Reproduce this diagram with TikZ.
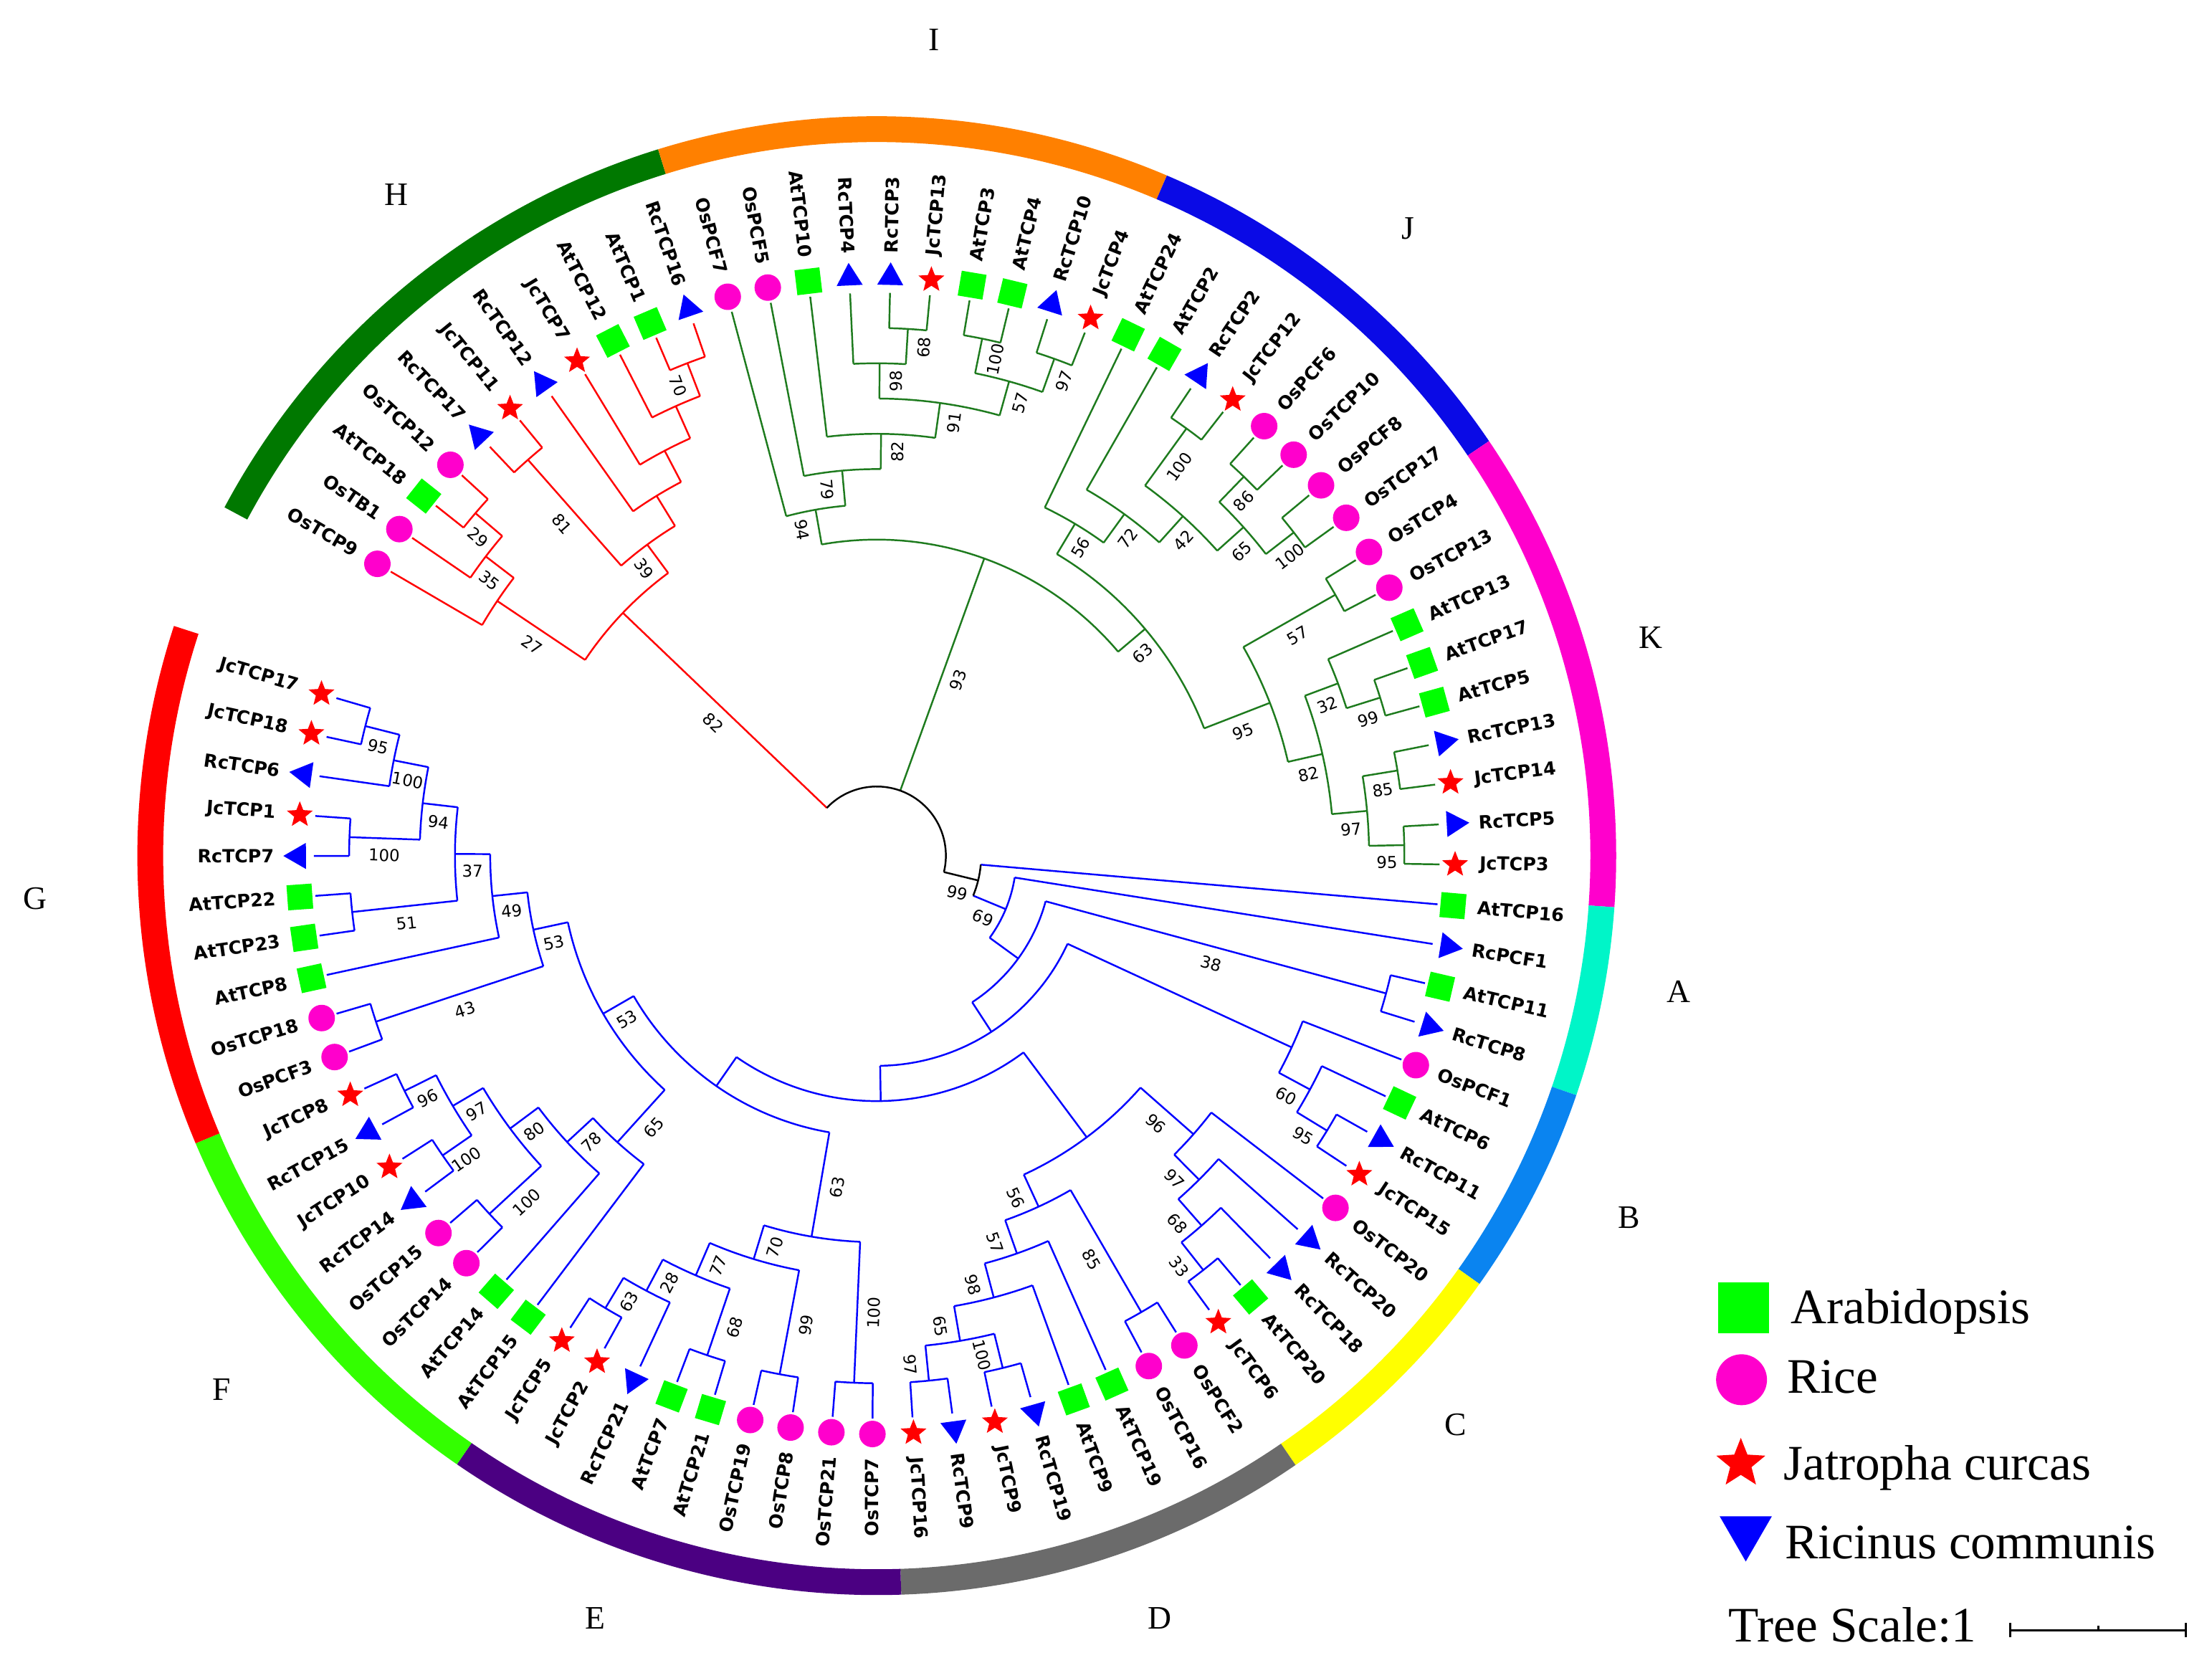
\documentclass[tikz,border=0pt]{standalone}
\usepackage{fontspec}
\setmainfont{Liberation Serif}
\newfontfamily\tipfont{DejaVu Sans}
\usetikzlibrary{shapes.geometric}

\definecolor{treered}{HTML}{FF0000}
\definecolor{treegreen}{HTML}{1E7B1E}
\definecolor{treeblue}{HTML}{0000FF}
\definecolor{arabgreen}{HTML}{00FF00}
\definecolor{ricepink}{HTML}{FF00CC}
\definecolor{jatred}{HTML}{FF0000}
\definecolor{ricblue}{HTML}{0000FF}
\definecolor{ringH}{HTML}{007800}
\definecolor{ringI}{HTML}{FF8000}
\definecolor{ringJ}{HTML}{0A0AE6}
\definecolor{ringK}{HTML}{FF00CC}
\definecolor{ringA}{HTML}{00F5C8}
\definecolor{ringB}{HTML}{0A84F0}
\definecolor{ringC}{HTML}{FFFF00}
\definecolor{ringD}{HTML}{6B6B6B}
\definecolor{ringE}{HTML}{4B0082}
\definecolor{ringF}{HTML}{33FF00}
\definecolor{ringG}{HTML}{FF0000}

\newcommand\brcol{treered}

% leaf: name, position in the circle, species
\newcommand\leaf[3]{%
	\pgfmathsetmacro\lang{149.7-4.07*#2}%
	\expandafter\xdef\csname ang@#1\endcsname{\lang}%
	\expandafter\xdef\csname rad@#1\endcsname{399}%
	\expandafter\xdef\csname col@#1\endcsname{\brcol}%
	\expandafter\gdef\csname bs@#1\endcsname{}%
	\coordinate (x-#1) at (\lang:399);
	\node[#3mark=\lang] (m-#1) at (\lang:410) {};
	\pgfmathsetmacro\lcos{cos(\lang)}%
	\ifdim\lcos pt<0pt
		\pgfmathsetmacro\lrot{\lang+180}%
		\node[tip, rotate=\lrot, anchor=east] (#1) at (\lang:427) {#1};
	\else
		\node[tip, rotate=\lang, anchor=west] (#1) at (\lang:427) {#1};
	\fi
}

% stem from the parent arc out to a child, with its bootstrap value
\newcommand\stem[2]{%
	\edef\sang{\csname ang@#1\endcsname}%
	\edef\srad{\csname rad@#1\endcsname}%
	\edef\prad{\csname rad@#2\endcsname}%
	\edef\scol{\csname col@#1\endcsname}%
	\edef\sval{\csname bs@#1\endcsname}%
	\coordinate (b-#1) at (\sang:\prad);
	\draw[branch, color=\scol] (b-#1) -- (x-#1);
	\ifx\sval\empty\else
		\pgfmathsetmacro\bmid{(\srad+\prad)/2}%
		\pgfmathsetmacro\scos{cos(\sang)}%
		\ifdim\scos pt<0pt
			\pgfmathsetmacro\boff{\sang+90}%
			\pgfmathsetmacro\brot{\sang+180}%
		\else
			\pgfmathsetmacro\boff{\sang-90}%
			\pgfmathsetmacro\brot{\sang}%
		\fi
		\path (\sang:\bmid) ++(\boff:12) node[boot, rotate=\brot] (bs-#1) {\sval};
	\fi
}

% clade: name, first child, second child, height, bootstrap
\newcommand\clade[5]{%
	\edef\aone{\csname ang@#2\endcsname}%
	\edef\atwo{\csname ang@#3\endcsname}%
	\pgfmathsetmacro\cang{(\aone+\atwo)/2}%
	\pgfmathsetmacro\crad{399-25*#4}%
	\expandafter\xdef\csname ang@#1\endcsname{\cang}%
	\expandafter\xdef\csname rad@#1\endcsname{\crad}%
	\expandafter\xdef\csname col@#1\endcsname{\brcol}%
	\expandafter\gdef\csname bs@#1\endcsname{#5}%
	\coordinate (x-#1) at (\cang:\crad);
	\stem{#2}{#1}\stem{#3}{#1}%
	\draw[branch, color=\brcol] (b-#2) arc[start angle=\aone, end angle=\atwo, radius=\crad];
}

\begin{document}
\begin{tikzpicture}[x=0.01968cm, y=0.01968cm,
		tip/.style={font=\tipfont\bfseries\fontsize{7.2}{8}\selectfont, inner sep=0pt},
		boot/.style={font=\tipfont\fontsize{6.5}{7}\selectfont, inner sep=0pt},
		branch/.style={line width=0.7pt},
		ring/.style={line width=0.36cm},
		cladename/.style={font=\fontsize{13}{15}\selectfont, inner sep=0pt},
		keytext/.style={font=\fontsize{19.7}{22}\selectfont, inner sep=0pt},
		atmark/.style={rectangle, fill=arabgreen, minimum size=0.35cm, inner sep=0pt, rotate=#1},
		osmark/.style={circle, fill=ricepink, minimum size=0.37cm, inner sep=0pt},
		jcmark/.style={star, star points=5, star point ratio=2.3, fill=jatred, minimum size=0.38cm, inner sep=0pt},
		rcmark/.style={regular polygon, regular polygon sides=3, fill=ricblue, minimum size=0.42cm, inner sep=0pt, rotate=#1-90}]
	\useasboundingbox (-621.5,-575.5) rectangle (946.5,606.5);

	\foreach \a/\b/\c in {107.2/151.9/ringH, 66.9/107.2/ringI, 34.1/66.9/ringJ, -4.0/34.1/ringK,
			-18.9/-4.0/ringA, -35.4/-18.9/ringB, -55.5/-35.4/ringC, -88.1/-55.5/ringD,
			-124.6/-88.1/ringE, -157.1/-124.6/ringF, -198.1/-157.1/ringG}
		\draw[ring, color=\c] (\a:515) arc[start angle=\a, end angle=\b, radius=515];

	\foreach \t/\x/\y in {I/40.5/578.5, H/-340.5/468.5, J/376.5/444.5, K/548.5/154.5,
			A/568.5/-96.5, B/533.5/-256.5, C/410.5/-403.5, D/200.5/-540.5,
			E/-199.5/-540.5, F/-464.5/-378.5, G/-596.5/-30.5}
		\node[cladename] (cl-\t) at (\x,\y) {\t};

	\renewcommand\brcol{treered}
	\leaf{OsTCP9}{0}{os}
	\leaf{OsTB1}{1}{os}
	\leaf{AtTCP18}{2}{at}
	\leaf{OsTCP12}{3}{os}
	\leaf{RcTCP17}{4}{rc}
	\leaf{JcTCP11}{5}{jc}
	\leaf{RcTCP12}{6}{rc}
	\leaf{JcTCP7}{7}{jc}
	\leaf{AtTCP12}{8}{at}
	\leaf{AtTCP1}{9}{at}
	\leaf{RcTCP16}{10}{rc}

	\renewcommand\brcol{treegreen}
	\leaf{OsPCF7}{11}{os}
	\leaf{OsPCF5}{12}{os}
	\leaf{AtTCP10}{13}{at}
	\leaf{RcTCP4}{14}{rc}
	\leaf{RcTCP3}{15}{rc}
	\leaf{JcTCP13}{16}{jc}
	\leaf{AtTCP3}{17}{at}
	\leaf{AtTCP4}{18}{at}
	\leaf{RcTCP10}{19}{rc}
	\leaf{JcTCP4}{20}{jc}
	\leaf{AtTCP24}{21}{at}
	\leaf{AtTCP2}{22}{at}
	\leaf{RcTCP2}{23}{rc}
	\leaf{JcTCP12}{24}{jc}
	\leaf{OsPCF6}{25}{os}
	\leaf{OsTCP10}{26}{os}
	\leaf{OsPCF8}{27}{os}
	\leaf{OsTCP17}{28}{os}
	\leaf{OsTCP4}{29}{os}
	\leaf{OsTCP13}{30}{os}
	\leaf{AtTCP13}{31}{at}
	\leaf{AtTCP17}{32}{at}
	\leaf{AtTCP5}{33}{at}
	\leaf{RcTCP13}{34}{rc}
	\leaf{JcTCP14}{35}{jc}
	\leaf{RcTCP5}{36}{rc}
	\leaf{JcTCP3}{37}{jc}

	\renewcommand\brcol{treeblue}
	\leaf{AtTCP16}{38}{at}
	\leaf{RcPCF1}{39}{rc}
	\leaf{AtTCP11}{40}{at}
	\leaf{RcTCP8}{41}{rc}
	\leaf{OsPCF1}{42}{os}
	\leaf{AtTCP6}{43}{at}
	\leaf{RcTCP11}{44}{rc}
	\leaf{JcTCP15}{45}{jc}
	\leaf{OsTCP20}{46}{os}
	\leaf{RcTCP20}{47}{rc}
	\leaf{RcTCP18}{48}{rc}
	\leaf{AtTCP20}{49}{at}
	\leaf{JcTCP6}{50}{jc}
	\leaf{OsPCF2}{51}{os}
	\leaf{OsTCP16}{52}{os}
	\leaf{AtTCP19}{53}{at}
	\leaf{AtTCP9}{54}{at}
	\leaf{RcTCP19}{55}{rc}
	\leaf{JcTCP9}{56}{jc}
	\leaf{RcTCP9}{57}{rc}
	\leaf{JcTCP16}{58}{jc}
	\leaf{OsTCP7}{59}{os}
	\leaf{OsTCP21}{60}{os}
	\leaf{OsTCP8}{61}{os}
	\leaf{OsTCP19}{62}{os}
	\leaf{AtTCP21}{63}{at}
	\leaf{AtTCP7}{64}{at}
	\leaf{RcTCP21}{65}{rc}
	\leaf{JcTCP2}{66}{jc}
	\leaf{JcTCP5}{67}{jc}
	\leaf{AtTCP15}{68}{at}
	\leaf{AtTCP14}{69}{at}
	\leaf{OsTCP14}{70}{os}
	\leaf{OsTCP15}{71}{os}
	\leaf{RcTCP14}{72}{rc}
	\leaf{JcTCP10}{73}{jc}
	\leaf{RcTCP15}{74}{rc}
	\leaf{JcTCP8}{75}{jc}
	\leaf{OsPCF3}{76}{os}
	\leaf{OsTCP18}{77}{os}
	\leaf{AtTCP8}{78}{at}
	\leaf{AtTCP23}{79}{at}
	\leaf{AtTCP22}{80}{at}
	\leaf{RcTCP7}{81}{rc}
	\leaf{JcTCP1}{82}{jc}
	\leaf{RcTCP6}{83}{rc}
	\leaf{JcTCP18}{84}{jc}
	\leaf{JcTCP17}{85}{jc}

	\renewcommand\brcol{treered}
	\clade{n1}{AtTCP18}{OsTCP12}{1}{29}
	\clade{n2}{OsTB1}{n1}{2}{35}
	\clade{n3}{OsTCP9}{n2}{3}{27}
	\clade{n4}{RcTCP17}{JcTCP11}{1}{81}
	\clade{n5}{AtTCP1}{RcTCP16}{1}{70}
	\clade{n6}{AtTCP12}{n5}{2}{}
	\clade{n7}{JcTCP7}{n6}{3}{}
	\clade{n9}{RcTCP12}{n7}{4}{}
	\clade{n8}{n4}{n9}{5}{39}
	\clade{H}{n3}{n8}{6}{82}

	\renewcommand\brcol{treegreen}
	\clade{g1}{RcTCP3}{JcTCP13}{1}{68}
	\clade{g2}{RcTCP4}{g1}{2}{98}
	\clade{g3}{AtTCP3}{AtTCP4}{1}{100}
	\clade{g4}{RcTCP10}{JcTCP4}{1}{97}
	\clade{g5}{g3}{g4}{2}{57}
	\clade{g6}{g2}{g5}{3}{91}
	\clade{g7}{AtTCP10}{g6}{4}{82}
	\clade{g8}{OsPCF5}{g7}{5}{79}
	\clade{g9}{OsPCF7}{g8}{6}{94}
	\clade{j1}{RcTCP2}{JcTCP12}{1}{100}
	\clade{k1}{OsPCF6}{OsTCP10}{1}{86}
	\clade{k2}{OsPCF8}{OsTCP17}{1}{100}
	\clade{k3}{k1}{k2}{2}{65}
	\clade{j2}{j1}{k3}{3}{42}
	\clade{j3}{AtTCP2}{j2}{4}{72}
	\clade{j4}{AtTCP24}{j3}{5}{56}
	\clade{k4}{OsTCP4}{OsTCP13}{1}{57}
	\clade{k5}{AtTCP17}{AtTCP5}{1}{99}
	\clade{k6}{AtTCP13}{k5}{2}{32}
	\clade{k7}{RcTCP13}{JcTCP14}{1}{85}
	\clade{k8}{RcTCP5}{JcTCP3}{1}{95}
	\clade{k9}{k7}{k8}{2}{97}
	\clade{k10}{k6}{k9}{3}{82}
	\clade{k11}{k4}{k10}{4}{95}
	\clade{jk}{j4}{k11}{6}{63}
	\clade{GR}{g9}{jk}{7}{93}

	\renewcommand\brcol{treeblue}
	\clade{b1}{RcTCP11}{JcTCP15}{1}{95}
	\clade{b2}{AtTCP6}{b1}{2}{60}
	\clade{b3}{OsPCF1}{b2}{3}{}
	\clade{a1}{AtTCP11}{RcTCP8}{1}{38}
	\clade{c1}{AtTCP20}{JcTCP6}{1}{33}
	\clade{c2}{RcTCP18}{c1}{2}{68}
	\clade{c3}{RcTCP20}{c2}{3}{97}
	\clade{c4}{OsTCP20}{c3}{4}{96}
	\clade{d1}{OsPCF2}{OsTCP16}{1}{85}
	\clade{d2}{RcTCP19}{JcTCP9}{1}{100}
	\clade{d3}{RcTCP9}{JcTCP16}{1}{97}
	\clade{d4}{d2}{d3}{2}{65}
	\clade{d5}{AtTCP9}{d4}{3}{98}
	\clade{d6}{AtTCP19}{d5}{4}{57}
	\clade{d7}{d1}{d6}{5}{56}
	\clade{cd}{c4}{d7}{6}{}
	\clade{e1}{OsTCP7}{OsTCP21}{1}{100}
	\clade{e2}{OsTCP8}{OsTCP19}{1}{99}
	\clade{e3}{AtTCP21}{AtTCP7}{1}{68}
	\clade{e4}{JcTCP2}{JcTCP5}{1}{63}
	\clade{e5}{RcTCP21}{e4}{2}{28}
	\clade{e6}{e3}{e5}{3}{77}
	\clade{e7}{e2}{e6}{4}{70}
	\clade{e8}{e1}{e7}{5}{63}
	\clade{f1}{RcTCP15}{JcTCP8}{1}{96}
	\clade{f2}{RcTCP14}{JcTCP10}{1}{100}
	\clade{f3}{f2}{f1}{2}{97}
	\clade{f4}{OsTCP14}{OsTCP15}{1}{100}
	\clade{f5}{f4}{f3}{3}{80}
	\clade{f6}{AtTCP14}{f5}{4}{78}
	\clade{f7}{AtTCP15}{f6}{5}{65}
	\clade{ga}{JcTCP18}{JcTCP17}{1}{95}
	\clade{gb}{RcTCP6}{ga}{2}{100}
	\clade{gc}{RcTCP7}{JcTCP1}{1}{100}
	\clade{gd}{gc}{gb}{3}{94}
	\clade{ge}{AtTCP23}{AtTCP22}{1}{51}
	\clade{gf}{ge}{gd}{4}{37}
	\clade{gg}{AtTCP8}{gf}{5}{49}
	\clade{gh}{OsPCF3}{OsTCP18}{1}{43}
	\clade{gi}{gh}{gg}{6}{53}
	\clade{fg}{f7}{gi}{7}{53}
	\clade{efg}{e8}{fg}{8}{}
	\clade{B5}{cd}{efg}{9}{}
	\clade{B4}{b3}{B5}{10}{}
	\clade{B2}{a1}{B4}{11}{}
	\clade{B1}{RcPCF1}{B2}{12}{69}
	\renewcommand\brcol{black}
	\clade{B0}{AtTCP16}{B1}{13}{99}

	\expandafter\xdef\csname rad@root\endcsname{49}
	\coordinate (x-root) at (0,0);
	\stem{H}{root}\stem{GR}{root}\stem{B0}{root}
	\edef\aone{\csname ang@H\endcsname}\edef\atwo{\csname ang@B0\endcsname}
	\draw[branch, black] (b-H) arc[start angle=\aone, end angle=\atwo, radius=49];

	\node[atmark=0, minimum size=0.71cm] (key-at) at (614.5,-320.5) {};
	\node[osmark, minimum size=0.71cm] (key-os) at (613,-371.5) {};
	\node[jcmark, minimum size=0.72cm] (key-jc) at (612.5,-431) {};
	\node[rcmark=270, minimum size=0.84cm] (key-rc) at (616,-479) {};
	\node[keytext, anchor=base west] (key-at-t) at (647.5,-331.5) {Arabidopsis};
	\node[keytext, anchor=base west] (key-os-t) at (645,-381) {Rice};
	\node[keytext, anchor=base west] (key-jc-t) at (642.5,-442.5) {Jatropha curcas};
	\node[keytext, anchor=base west] (key-rc-t) at (643.5,-498.5) {Ricinus communis};
	\node[keytext, anchor=base west] (scale-t) at (603.5,-557.5) {Tree Scale:1};
	\draw[line width=0.8pt] (803.5,-549) -- (928,-549);
	\draw[line width=0.8pt] (803.5,-554) -- (803.5,-544);
	\draw[line width=0.8pt] (928,-554) -- (928,-544);
	\draw[line width=0.8pt] (866,-549) -- (866,-546);
\end{tikzpicture}
\end{document}
